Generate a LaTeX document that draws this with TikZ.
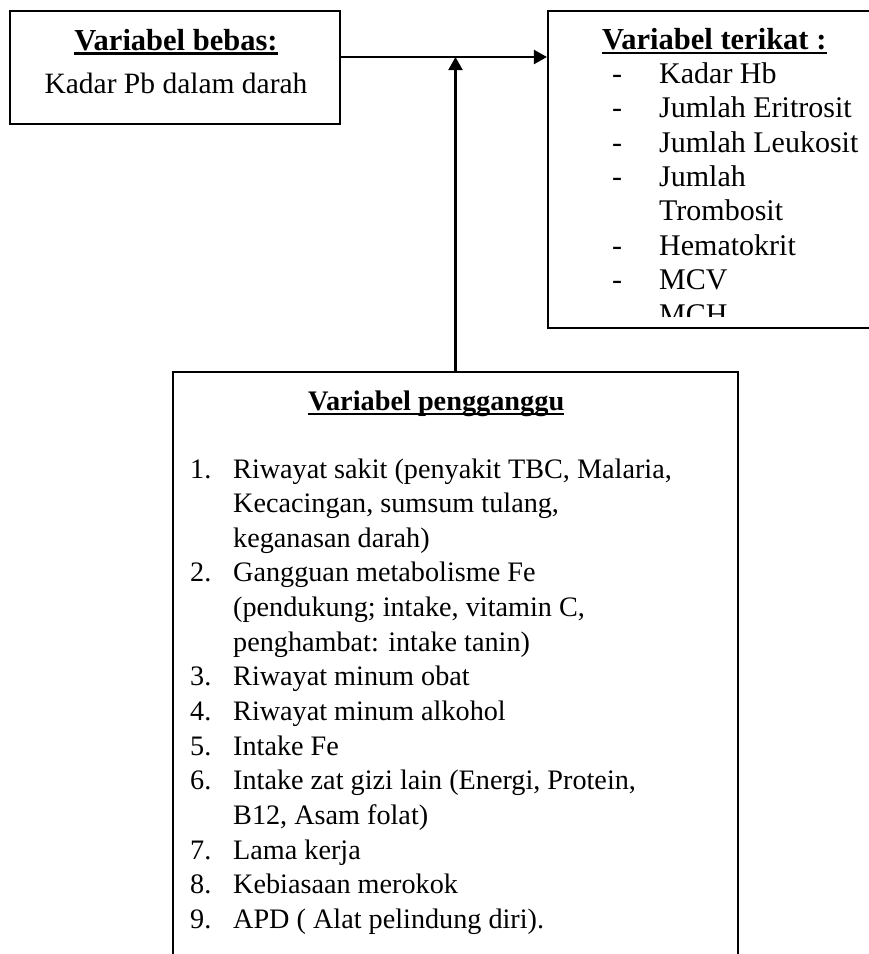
\documentclass[tikz,border=0pt]{standalone}
\usepackage{fontspec}
\setmainfont{Liberation Serif}
\usetikzlibrary{arrows.meta}

\tikzset{
  frame/.style={draw, line width=2.1pt, rectangle, inner sep=0pt},
  txt/.style={inner sep=0pt, font=\fontsize{29.5}{34.5}\selectfont},
  txtr/.style={inner sep=0pt, font=\fontsize{30}{34.5}\selectfont},
  txtg/.style={inner sep=0pt, font=\fontsize{28.2}{34.5}\selectfont},
  head/.style={inner sep=0pt, font=\fontsize{30.5}{34.5}\selectfont\bfseries},
  headg/.style={inner sep=0pt, font=\fontsize{28.3}{34.5}\selectfont\bfseries},
  uline/.style={line width=2.2pt},
  link/.style={line width=2.1pt, -{Triangle[length=13pt,width=14pt]}}
}

\begin{document}
\begin{tikzpicture}[x=1pt,y=-1pt]
\useasboundingbox (0,0) rectangle (869,954);

% boxes
\node[frame, minimum width=330pt, minimum height=113pt] (bebas) at (175,67.5) {};
\node[frame, minimum width=340pt, minimum height=317pt] (terikat) at (718,169.5) {};
\node[frame, minimum width=565pt, minimum height=620pt] (ganggu) at (455.5,682) {};

% independent variable
\node[head, anchor=base] (hbebas) at (176,50) {Variabel bebas:};
\draw[uline] ([yshift=-3.5pt]hbebas.base west) -- ([yshift=-3.5pt]hbebas.base east);
\node[txt, anchor=base] (pb) at (176,93) {Kadar Pb dalam darah};

% dependent variables (text box cut off at its lower margin)
\node[head, anchor=base west] (hterikat) at (602,49.3) {Variabel terikat :};
\draw[uline] ([yshift=-3.5pt]hterikat.base west) -- ([yshift=-3.5pt]hterikat.base east);
\begin{scope}
  \clip (548,11) rectangle (880,316);
  \foreach \dash/\txt [count=\k from 0] in {
    -/{Kadar Hb},
    -/{Jumlah Eritrosit},
    -/{Jumlah Leukosit},
    -/{Jumlah},
    {}/{Trombosit},
    -/{Hematokrit},
    -/{MCV},
    {}/{MCH}}{
    \node[txtr, anchor=base west] (td\k) at (612,83.3+34.4*\k) {\dash};
    \node[txtr, anchor=base west] (tt\k) at (659,83.3+34.4*\k) {\txt};
  }
\end{scope}

% confounding variables
\node[headg, anchor=base west] (hganggu) at (308,410) {Variabel pengganggu};
\draw[uline] ([yshift=-4pt]hganggu.base west) -- ([yshift=-4pt]hganggu.base east);
\foreach \num/\txt [count=\k from 0] in {
  {1.}/{Riwayat sakit (penyakit TBC, Malaria,},
  {}/{Kecacingan, sumsum tulang,},
  {}/{keganasan darah)},
  {2.}/{Gangguan metabolisme Fe},
  {}/{(pendukung; intake, vitamin C,},
  {}/{penghambat: intake tanin)},
  {3.}/{Riwayat minum obat},
  {4.}/{Riwayat minum alkohol},
  {5.}/{Intake Fe},
  {6.}/{Intake zat gizi lain (Energi, Protein,},
  {}/{B12, Asam folat)},
  {7.}/{Lama kerja},
  {8.}/{Kebiasaan merokok},
  {9.}/{APD ( Alat pelindung diri).}}{
  \node[txtg, anchor=base west] (gn\k) at (190,478+34.65*\k) {\num};
  \node[txtg, anchor=base west] (gt\k) at (233,478+34.65*\k) {\txt};
}

% connectors
\coordinate (join) at (456,57);
\draw[link] (bebas.east |- join) -- (terikat.west |- join);
\draw[link] (ganggu.north) -- (ganggu.north |- join);
\end{tikzpicture}
\end{document}
